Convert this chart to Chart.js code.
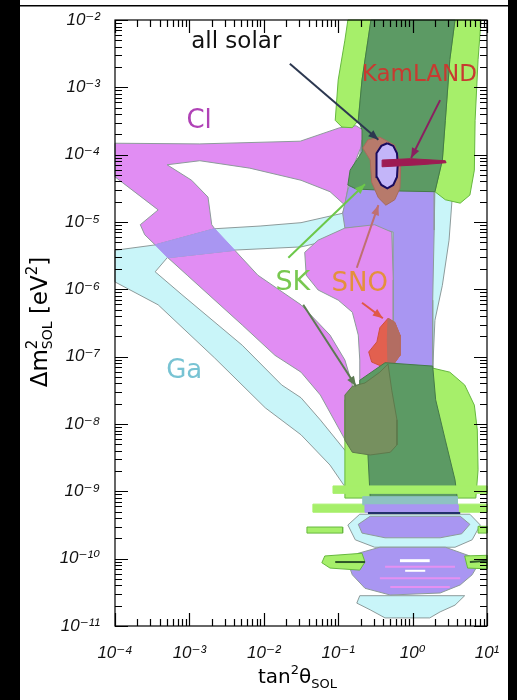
<!DOCTYPE html>
<html>
<head>
<meta charset="utf-8">
<script src="https://cdn.jsdelivr.net/npm/chart.js@4.4.1/dist/chart.umd.min.js"></script>
<style>
  html, body { margin: 0; padding: 0; background: #fff; }
  canvas { display: block; }
</style>
</head>
<body>
<canvas id="myChart" width="517" height="700"></canvas>
<script>
// every vertex is [log10(tan^2 theta), log10(delta m^2 / eV^2)]

const decadesX = [1e-4, 1e-3, 1e-2, 1e-1, 1e0, 1e1];
const decadesY = [1e-11, 1e-10, 1e-9, 1e-8, 1e-7, 1e-6, 1e-5, 1e-4, 1e-3, 1e-2];

// Ga allowed region and its inner hole
const gaOuter = [[-4.00,-5.42],[-3.46,-5.34],[-2.66,-5.10],[-2.05,-5.06],[-1.50,-5.01],[-0.94,-4.87],[-0.84,-4.52],[-0.71,-4.42],[0.44,-4.41],[0.53,-4.67],[0.49,-5.27],[0.40,-5.94],[0.30,-6.46],[0.27,-7.20],[0.37,-8.83],[-0.88,-8.98],[-1.11,-8.61],[-1.50,-8.16],[-1.98,-7.76],[-2.66,-7.02],[-3.42,-6.23],[-4.00,-5.89]];
const gaHole = [[-3.46,-5.74],[-3.29,-5.52],[-2.45,-5.42],[-1.50,-5.37],[-1.11,-5.27],[-0.91,-5.15],[-0.57,-5.06],[-0.28,-5.12],[-0.26,-6.16],[-0.26,-7.12],[-0.30,-7.50],[-0.71,-8.09],[-0.91,-8.39],[-1.24,-7.94],[-1.50,-7.61],[-1.76,-7.42],[-2.29,-6.83],[-3.10,-6.08]];

// Cl region pieces
const clUpper = [[-4.00,-3.83],[-2.86,-3.84],[-1.51,-3.80],[-0.98,-3.60],[-0.76,-3.57],[-0.60,-3.68],[-0.71,-3.93],[-0.84,-4.30],[-0.91,-4.75],[-1.11,-4.55],[-1.50,-4.38],[-2.19,-4.20],[-2.86,-4.09],[-3.30,-4.15],[-2.97,-4.38],[-2.75,-4.63],[-2.70,-5.04],[-2.66,-5.10],[-3.46,-5.34],[-3.60,-5.19],[-3.66,-5.04],[-3.42,-4.82],[-4.00,-4.33]];
const clBand = [[-3.29,-5.53],[-2.39,-5.42],[-2.08,-5.79],[-1.50,-6.23],[-1.11,-6.68],[-0.91,-7.05],[-0.81,-7.42],[-0.87,-8.31],[-1.24,-7.57],[-1.50,-7.23],[-1.85,-6.98],[-2.29,-6.53],[-3.03,-5.79]];
const clLobe = [[-1.27,-5.27],[-0.91,-5.09],[-0.51,-5.04],[-0.28,-5.15],[-0.26,-5.86],[-0.26,-6.60],[-0.28,-7.20],[-0.44,-7.42],[-0.71,-7.42],[-0.71,-7.05],[-0.73,-6.68],[-0.81,-6.34],[-1.00,-6.16],[-1.27,-6.01],[-1.43,-5.79],[-1.45,-5.45]];
// Cl and Ga overlap
const clGaBand = [[-3.46,-5.34],[-2.66,-5.10],[-2.39,-5.42],[-3.29,-5.53]];
const clGaStrip = [[-0.94,-4.87],[-0.87,-4.52],[-0.73,-4.15],[-0.68,-3.78],[-0.55,-3.69],[-0.17,-3.93],[0.30,-4.50],[0.29,-5.12],[0.27,-6.16],[0.27,-7.17],[-0.26,-7.17],[-0.26,-5.15],[-0.57,-5.06],[-0.91,-5.09]];

// SK regions
const skLightTopL = [[-0.87,-2.00],[-0.56,-2.00],[-0.60,-2.30],[-0.68,-2.89],[-0.73,-3.49],[-0.81,-3.60],[-0.95,-3.59],[-1.04,-3.49],[-1.00,-2.89],[-0.91,-2.30]];
const skLightTopR = [[0.57,-2.00],[0.92,-2.00],[0.88,-2.59],[0.84,-3.49],[0.83,-4.23],[0.77,-4.60],[0.64,-4.72],[0.44,-4.67],[0.30,-4.55],[0.40,-4.08],[0.44,-3.49],[0.50,-2.59]];
const skDarkTop = [[-0.56,-2.00],[0.57,-2.00],[0.50,-2.59],[0.44,-3.49],[0.40,-4.08],[0.30,-4.55],[-0.17,-4.54],[-0.76,-4.51],[-0.87,-4.45],[-0.84,-4.23],[-0.68,-3.96],[-0.68,-3.63],[-0.73,-3.49],[-0.68,-2.89],[-0.60,-2.30]];
const skLightLow = [[-0.91,-7.64],[-0.34,-7.12],[0.27,-7.17],[0.50,-7.23],[0.70,-7.42],[0.83,-7.72],[0.87,-8.09],[0.88,-8.68],[0.85,-9.10],[-0.91,-9.10]];
const skDarkLow = [[-0.37,-7.09],[0.27,-7.14],[0.31,-7.64],[0.44,-8.24],[0.57,-8.83],[0.60,-9.10],[-0.57,-9.10],[-0.60,-8.46],[-0.71,-7.94],[-0.71,-7.35]];
const skClLow = [[-0.91,-7.57],[-0.81,-7.44],[-0.64,-7.39],[-0.44,-7.23],[-0.33,-7.11],[-0.28,-7.50],[-0.21,-7.94],[-0.21,-8.31],[-0.30,-8.42],[-0.57,-8.46],[-0.81,-8.42],[-0.91,-8.24]];

// SNO, all solar, KamLAND
const snoUpper = [[-0.60,-3.78],[-0.44,-3.74],[-0.24,-3.86],[-0.16,-4.15],[-0.17,-4.50],[-0.24,-4.67],[-0.36,-4.75],[-0.46,-4.64],[-0.55,-4.41],[-0.57,-4.08],[-0.67,-3.90]];
const snoLower = [[-0.33,-6.43],[-0.24,-6.49],[-0.17,-6.68],[-0.17,-6.98],[-0.26,-7.12],[-0.40,-7.15],[-0.55,-7.08],[-0.59,-6.93],[-0.48,-6.78],[-0.44,-6.57]];
const snoLowerMix = [[-0.33,-6.43],[-0.24,-6.49],[-0.17,-6.68],[-0.17,-6.98],[-0.26,-7.12],[-0.33,-7.14],[-0.34,-6.75]];
const allSolar = [[-0.34,-3.83],[-0.26,-3.87],[-0.21,-3.98],[-0.20,-4.15],[-0.21,-4.33],[-0.26,-4.45],[-0.34,-4.50],[-0.42,-4.45],[-0.48,-4.33],[-0.49,-4.15],[-0.48,-3.98],[-0.42,-3.87]];
const kamland = [[-0.41,-4.08],[-0.03,-4.06],[0.44,-4.09],[0.45,-4.12],[0.10,-4.15],[-0.41,-4.18]];

// low mass islands
const skStripeA = [[-1.07,-8.92],[1.00,-8.92],[1.00,-9.03],[-1.07,-9.03]];
const skStripeB = [[-1.34,-9.19],[1.00,-9.19],[1.00,-9.31],[-1.34,-9.31]];
const mixStripe = [[-0.67,-9.08],[0.60,-9.08],[0.60,-9.20],[-0.67,-9.20]];
const violetStripe = [[-0.64,-9.20],[0.61,-9.20],[0.61,-9.31],[-0.64,-9.31]];
const gaBlob1 = [[-0.71,-9.34],[0.77,-9.34],[0.91,-9.50],[0.80,-9.72],[0.57,-9.83],[-0.51,-9.83],[-0.77,-9.72],[-0.87,-9.50]];
const violetBlob1 = [[-0.57,-9.37],[0.64,-9.37],[0.77,-9.49],[0.66,-9.63],[0.37,-9.69],[-0.37,-9.69],[-0.68,-9.62],[-0.73,-9.49]];
const skBarL = [[-1.42,-9.53],[-0.94,-9.53],[-0.94,-9.62],[-1.42,-9.62]];
const skBarR = [[0.88,-9.52],[1.00,-9.52],[1.00,-9.62],[0.88,-9.62]];
const violetBlob2 = [[-0.44,-9.83],[0.44,-9.83],[0.77,-9.96],[0.88,-10.09],[0.80,-10.24],[0.64,-10.39],[0.37,-10.51],[-0.30,-10.54],[-0.64,-10.44],[-0.81,-10.24],[-0.87,-10.06],[-0.73,-9.92]];
const skBlobL = [[-1.18,-9.96],[-0.68,-9.92],[-0.64,-10.05],[-0.71,-10.17],[-1.11,-10.14],[-1.22,-10.06]];
const skBlobR = [[0.70,-9.96],[1.00,-9.95],[1.00,-10.15],[0.74,-10.14]];
const gaBlob2 = [[-0.71,-10.55],[0.70,-10.55],[0.57,-10.69],[0.37,-10.79],[0.23,-10.88],[-0.37,-10.88],[-0.57,-10.76],[-0.75,-10.66]];
const navyLine = [[-0.60,-9.32],[0.64,-9.32]];
const pinkLine1 = [[-0.37,-10.12],[0.57,-10.12]];
const pinkLine2 = [[-0.44,-10.29],[0.64,-10.29]];
const pinkLine3 = [[-0.30,-10.42],[0.50,-10.42]];
const whiteBar1 = [[-0.17,-10.03],[0.23,-10.03]];
const whiteBar2 = [[-0.10,-10.18],[0.17,-10.18]];
const darkLineL = [[-1.04,-10.05],[-0.64,-10.05]];
const darkLineR = [[0.77,-10.05],[1.00,-10.03]];

// arrows: tail, head
const arrowAllSolar = [[-1.65,-2.65],[-0.46,-3.78]];
const arrowKamland = [[0.37,-3.19],[-0.02,-4.05]];
const arrowSkUp = [[-1.67,-5.53],[-0.64,-4.44]];
const arrowSkDown = [[-1.47,-6.23],[-0.76,-7.44]];
const arrowSnoUp = [[-0.75,-5.68],[-0.46,-4.75]];
const arrowSnoDown = [[-0.68,-6.20],[-0.40,-6.43]];

const labelTexts = ['all solar', 'KamLAND', 'Cl', 'SK', 'SNO', 'Ga'];
const labelAt = [[-2.37,-2.33],[0.09,-2.82],[-2.87,-3.50],[-1.61,-5.91],[-0.71,-5.92],[-3.07,-7.21]];

const CYAN = '#c9f5f9', MAGENTA = '#e18df3', VIOLET = '#a996f2';
const LGREEN = '#a6ef6a', DGREEN = '#5c9a64', OLIVE = '#76905f';
const EDGE = '#8d9b9b', GEDGE = '#66b83e', DEDGE = '#447a48';

const SUP = {'-': '\u207b', '0': '\u2070', '1': '\u00b9', '2': '\u00b2', '3': '\u00b3', '4': '\u2074',
  '5': '\u2075', '6': '\u2076', '7': '\u2077', '8': '\u2078', '9': '\u2079'};
function powLabel(v) {
  const e = Math.round(Math.log10(v));
  return '10' + String(e).split('').map(c => SUP[c]).join('');
}
const toXY = arr => arr.map(p => ({x: Math.pow(10, p[0]), y: Math.pow(10, p[1])}));

function region(points, bg, border, width) {
  const data = toXY(points);
  data.push(data[0]);
  return {data, showLine: true, fill: 'shape', backgroundColor: bg, borderColor: border || bg,
    borderWidth: width || 1, pointRadius: 0, clip: false};
}
function stroke(points, color, width, arrow) {
  return {data: toXY(points), showLine: true, fill: false, borderColor: color, borderWidth: width,
    pointRadius: 0, arrow: !!arrow, clip: false};
}

const datasets = [
  region(gaOuter, CYAN, EDGE),
  region(gaHole, '#ffffff', EDGE),
  region(clUpper, MAGENTA, EDGE),
  region(clBand, MAGENTA, EDGE),
  region(clGaBand, VIOLET, VIOLET),
  region(clGaStrip, VIOLET, EDGE),
  region(clLobe, MAGENTA, EDGE),
  region(skLightTopL, LGREEN, GEDGE),
  region(skLightTopR, LGREEN, GEDGE),
  region(skDarkTop, DGREEN, DEDGE),
  region(snoUpper, '#b77a6b', '#a86a5c'),
  region(allSolar, '#c3b5f9', '#1a0b5e', 2),
  region(kamland, '#9d1b52', '#9d1b52'),
  region(snoLower, '#e2604f', '#d0503f'),
  region(snoLowerMix, '#b36d62', '#b36d62'),
  region(skLightLow, LGREEN, GEDGE),
  region(skDarkLow, DGREEN, DEDGE),
  region(skClLow, OLIVE, '#5e7a4c'),
  region(skStripeA, LGREEN, LGREEN),
  region(skStripeB, LGREEN, LGREEN),
  region(gaBlob1, CYAN, EDGE),
  region(mixStripe, '#8ec2c2', '#8ec2c2'),
  region(violetStripe, VIOLET, VIOLET),
  region(violetBlob1, VIOLET, EDGE),
  region(skBarL, LGREEN, GEDGE),
  region(skBarR, LGREEN, GEDGE),
  region(violetBlob2, VIOLET, EDGE),
  region(skBlobL, LGREEN, GEDGE),
  region(skBlobR, LGREEN, GEDGE),
  region(gaBlob2, CYAN, EDGE),
  stroke(navyLine, '#22306a', 2),
  stroke(pinkLine1, '#e590f2', 2),
  stroke(pinkLine2, '#e590f2', 2),
  stroke(pinkLine3, '#e590f2', 2),
  stroke(whiteBar1, '#ffffff', 3),
  stroke(whiteBar2, '#ffffff', 2),
  stroke(darkLineL, '#2d5528', 2),
  stroke(darkLineR, '#2d5528', 2),
  stroke(arrowAllSolar, '#2c3850', 2, true),
  stroke(arrowKamland, '#8a2060', 2, true),
  stroke(arrowSkUp, '#6cc84a', 2, true),
  stroke(arrowSkDown, '#5c7a52', 2, true),
  stroke(arrowSnoUp, '#c07070', 2, true),
  stroke(arrowSnoDown, '#e05848', 2, true)
];
datasets.forEach((d, i) => { d.order = -i; });

const labelColors = ['#111111', '#c83a30', '#b042b6', '#78c850', '#e4903c', '#78c3d3'];
const labelSizes = [23, 23, 26, 27, 26, 26];

function drawRuns(ctx, runs, x, y) {
  let cx = x;
  for (const r of runs) {
    ctx.font = r.size + 'px "DejaVu Sans"';
    ctx.fillText(r.t, cx, y + (r.dy || 0));
    if (!r.stay) cx += ctx.measureText(r.t).width;
  }
}
function runsWidth(ctx, runs) {
  let w = 0;
  for (const r of runs) {
    ctx.font = r.size + 'px "DejaVu Sans"';
    if (!r.stay) w += ctx.measureText(r.t).width;
  }
  return w;
}

const decor = {
  id: 'decor',
  beforeDraw(chart) {
    const {ctx, width, height} = chart;
    ctx.save();
    ctx.fillStyle = '#fff';
    ctx.fillRect(0, 0, width, height);
    ctx.fillStyle = '#000';
    ctx.fillRect(0, 0, 20, height);
    ctx.fillRect(508, 0, width - 508, height);
    ctx.fillRect(20, 5, 488, 1.5);
    ctx.restore();
  },
  afterDatasetsDraw(chart) {
    const {ctx} = chart;
    const xs = chart.scales.x, ys = chart.scales.y;
    ctx.save();
    chart.data.datasets.forEach((ds, i) => {
      if (!ds.arrow) return;
      const pts = chart.getDatasetMeta(i).data;
      const a = pts[pts.length - 2], b = pts[pts.length - 1];
      const ang = Math.atan2(b.y - a.y, b.x - a.x);
      ctx.fillStyle = ds.borderColor;
      ctx.beginPath();
      ctx.moveTo(b.x, b.y);
      ctx.lineTo(b.x - 10 * Math.cos(ang) + 4 * Math.sin(ang), b.y - 10 * Math.sin(ang) - 4 * Math.cos(ang));
      ctx.lineTo(b.x - 10 * Math.cos(ang) - 4 * Math.sin(ang), b.y - 10 * Math.sin(ang) + 4 * Math.cos(ang));
      ctx.closePath();
      ctx.fill();
    });
    ctx.textAlign = 'center';
    ctx.textBaseline = 'middle';
    labelTexts.forEach((t, i) => {
      ctx.font = labelSizes[i] + 'px "DejaVu Sans"';
      ctx.fillStyle = labelColors[i];
      ctx.fillText(t, xs.getPixelForValue(Math.pow(10, labelAt[i][0])), ys.getPixelForValue(Math.pow(10, labelAt[i][1])));
    });
    ctx.restore();
  },
  afterDraw(chart) {
    const {ctx, chartArea: ca} = chart;
    const xs = chart.scales.x, ys = chart.scales.y;
    ctx.save();
    ctx.strokeStyle = '#000';
    ctx.lineWidth = 1.2;
    ctx.strokeRect(ca.left, ca.top, ca.right - ca.left, ca.bottom - ca.top);
    ctx.beginPath();
    decadesX.forEach(d => {
      for (let k = 1; k <= 9; k++) {
        const v = d * k;
        if (v > 10 * 1.0001) break;
        const px = Math.round(xs.getPixelForValue(v)) + 0.5;
        const len = k === 1 ? 13 : 7;
        ctx.moveTo(px, ca.bottom); ctx.lineTo(px, ca.bottom - len);
        ctx.moveTo(px, ca.top); ctx.lineTo(px, ca.top + len);
      }
    });
    decadesY.forEach(d => {
      for (let k = 1; k <= 9; k++) {
        const v = d * k;
        if (v > 1e-2 * 1.0001) break;
        const py = Math.round(ys.getPixelForValue(v)) + 0.5;
        const len = k === 1 ? 13 : 7;
        ctx.moveTo(ca.left, py); ctx.lineTo(ca.left + len, py);
        ctx.moveTo(ca.right, py); ctx.lineTo(ca.right - len, py);
      }
    });
    ctx.stroke();

    ctx.fillStyle = '#000';
    ctx.textAlign = 'left';
    ctx.textBaseline = 'alphabetic';
    // x title
    drawRuns(ctx, [
      {t: 'tan', size: 20}, {t: '2', size: 13, dy: -9}, {t: '\u03b8', size: 20}, {t: 'SOL', size: 13, dy: 5}
    ], 258, 683);
    // y title
    const yRuns = [
      {t: '\u0394m', size: 23}, {t: '2', size: 15, dy: -10, stay: true}, {t: 'SOL', size: 14, dy: 5},
      {t: ' [eV', size: 23}, {t: '2', size: 15, dy: -10}, {t: ']', size: 23}
    ];
    ctx.translate(47, 322);
    ctx.rotate(-Math.PI / 2);
    drawRuns(ctx, yRuns, -runsWidth(ctx, yRuns) / 2, 0);
    ctx.restore();
  }
};

const ctx = document.getElementById('myChart').getContext('2d');
const tickFont = {family: '"Liberation Sans", "DejaVu Sans"', style: 'italic', size: 17};

const myChart = new Chart(ctx, {
  type: 'scatter',
  data: { datasets },
  options: {
    responsive: false,
    devicePixelRatio: 1,
    animation: false,
    events: [],
    layout: { padding: { left: 20, right: 30, top: 20, bottom: 0 } },
    plugins: { legend: { display: false }, tooltip: { enabled: false } },
    scales: {
      x: {
        type: 'logarithmic', min: 1e-4, max: 10, position: 'bottom',
        afterBuildTicks: ax => { ax.ticks = decadesX.map(v => ({value: v})); },
        afterFit: ax => { ax.height = 74; },
        grid: { display: false }, border: { display: false },
        ticks: { callback: v => powLabel(v), font: tickFont, color: '#111', padding: 9, maxRotation: 0, autoSkip: false }
      },
      y: {
        type: 'logarithmic', min: 1e-11, max: 1e-2,
        afterBuildTicks: ax => { ax.ticks = decadesY.map(v => ({value: v})); },
        afterFit: ax => { ax.width = 95; },
        grid: { display: false }, border: { display: false },
        ticks: { callback: v => powLabel(v), font: tickFont, color: '#111', padding: 7, autoSkip: false }
      }
    }
  },
  plugins: [decor]
});
</script>
</body>
</html>
